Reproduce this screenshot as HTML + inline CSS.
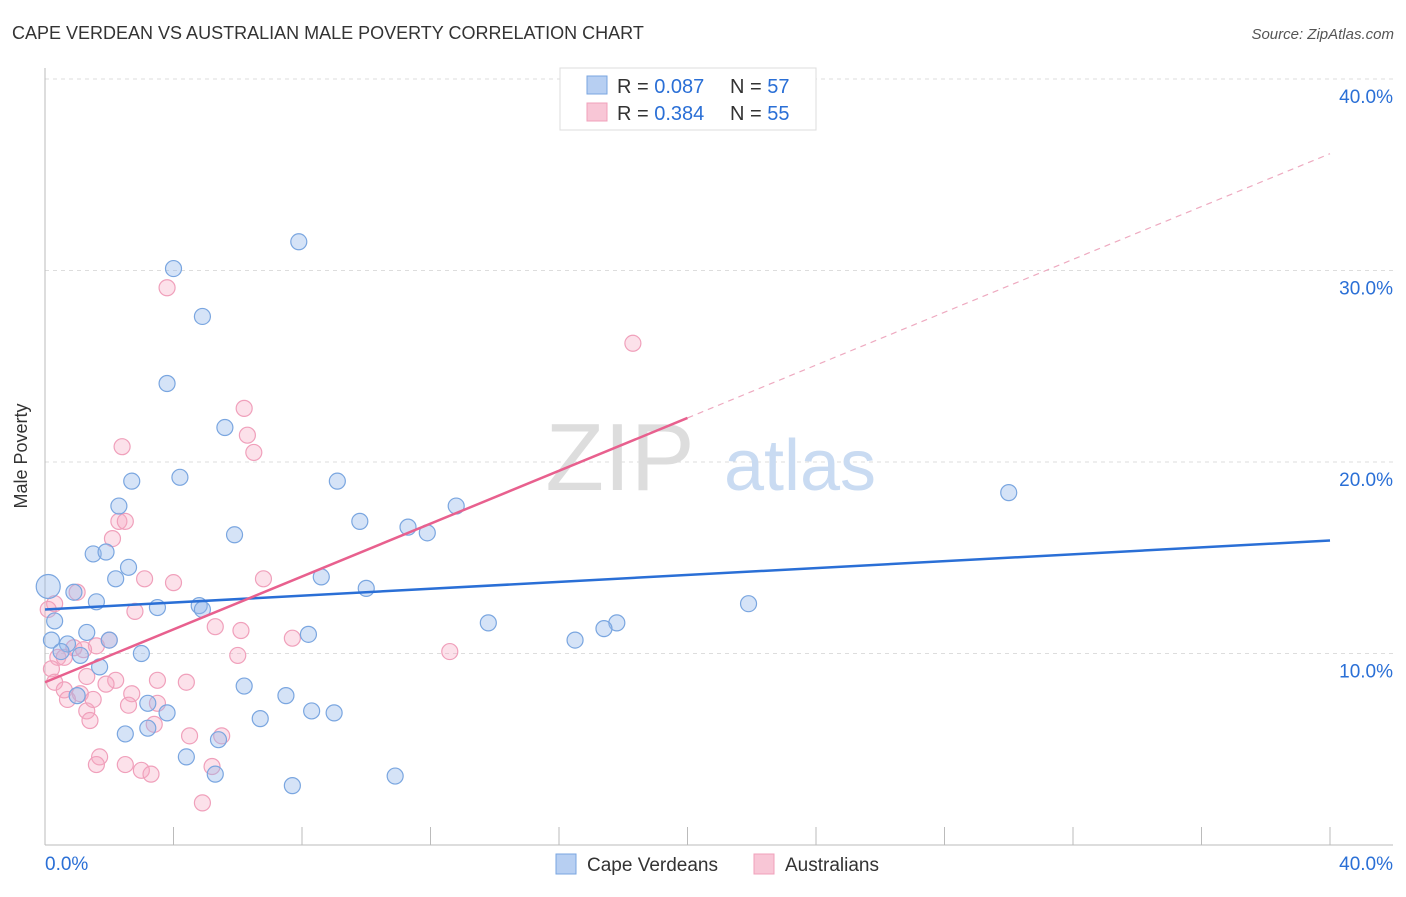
<!DOCTYPE html>
<html><head><meta charset="utf-8"><style>
body{margin:0;background:#fff;font-family:"Liberation Sans",sans-serif;}
svg text{font-family:"Liberation Sans",sans-serif;}
</style></head><body>
<svg id="chart" width="1406" height="892" xmlns="http://www.w3.org/2000/svg">
<text x="12" y="39" font-size="18" fill="#333">CAPE VERDEAN VS AUSTRALIAN MALE POVERTY CORRELATION CHART</text>
<text x="1394" y="39" font-size="15" fill="#555" text-anchor="end" font-style="italic">Source: ZipAtlas.com</text>
<g id="grid"></g>
<text x="620" y="490" font-size="96" fill="#ddd" font-family="Liberation Serif" text-anchor="middle">ZIP</text>
<text x="800" y="490" font-size="72" fill="#c9dbf2" text-anchor="middle">atlas</text>
<g id="pts"></g>
<g id="lines"></g>
<text x="27" y="456" font-size="18" fill="#333" transform="rotate(-90 27 456)" text-anchor="middle">Male Poverty</text>
<g>
<rect x="560" y="68" width="256" height="62" fill="#fff" stroke="#ddd"/>
<rect x="587" y="76" width="20" height="18" fill="#b7cff2" stroke="#7aa6e0"/>
<rect x="587" y="103" width="20" height="18" fill="#f8c6d6" stroke="#f0a0bb"/>
<text x="617" y="93" font-size="20" fill="#333">R = <tspan fill="#2a6fd6">0.087</tspan></text>
<text x="730" y="93" font-size="20" fill="#333">N = <tspan fill="#2a6fd6">57</tspan></text>
<text x="617" y="120" font-size="20" fill="#333">R = <tspan fill="#2a6fd6">0.384</tspan></text>
<text x="730" y="120" font-size="20" fill="#333">N = <tspan fill="#2a6fd6">55</tspan></text>
</g>
<g>
<rect x="556" y="854" width="20" height="20" fill="#b7cff2" stroke="#7aa6e0"/>
<text x="587" y="871" font-size="19" fill="#333">Cape Verdeans</text>
<rect x="754" y="854" width="20" height="20" fill="#f8c6d6" stroke="#f0a0bb"/>
<text x="785" y="871" font-size="19" fill="#333">Australians</text>
</g>
</svg>
<script>
const yTicks=[10,20,30,40];
const xTickLabels=["0.0%","40.0%"];
const blueX=[7.9,4.0,4.9,3.8,5.6,4.2,2.7,9.1,2.3,12.8,9.8,11.3,11.9,5.9,1.5,1.9,2.6,2.2,8.6,10.0,0.9,1.6,3.5,4.8,4.9,0.3,13.8,17.8,17.4,16.5,21.9,30.0,8.2,1.3,0.2,0.7,2.0,0.5,1.1,3.0,1.7,1.0,6.2,7.5,3.2,3.8,6.7,8.3,9.0,2.5,3.2,5.4,4.4,5.3,10.9,7.7];
const blueY=[31.5,30.1,27.6,24.1,21.8,19.2,19.0,19.0,17.7,17.7,16.9,16.6,16.3,16.2,15.2,15.3,14.5,13.9,14.0,13.4,13.2,12.7,12.4,12.5,12.3,11.7,11.6,11.6,11.3,10.7,12.6,18.4,11.0,11.1,10.7,10.5,10.7,10.1,9.9,10.0,9.3,7.8,8.3,7.8,7.4,6.9,6.6,7.0,6.9,5.8,6.1,5.5,4.6,3.7,3.6,3.1];
const bigX=[0.1], bigY=[13.5];
const pinkX=[3.8,18.3,6.2,6.3,2.4,6.5,2.3,2.5,2.1,3.1,4.0,6.8,1.0,2.8,5.3,6.1,7.7,0.3,1.6,2.0,12.6,6.0,0.9,0.4,0.2,1.3,2.2,0.3,0.6,1.9,3.5,4.4,2.7,1.1,0.7,2.6,3.5,1.3,1.4,3.4,4.5,5.5,1.7,1.6,2.5,3.0,3.3,5.2,4.9,0.1,0.6,1.2,1.5];
const pinkY=[29.1,26.2,22.8,21.4,20.8,20.5,16.9,16.9,16.0,13.9,13.7,13.9,13.2,12.2,11.4,11.2,10.8,12.6,10.4,10.7,10.1,9.9,10.3,9.8,9.2,8.8,8.6,8.5,8.1,8.4,8.6,8.5,7.9,7.9,7.6,7.3,7.4,7.0,6.5,6.3,5.7,5.7,4.6,4.2,4.2,3.9,3.7,4.1,2.2,12.3,9.8,10.2,7.6];
const blueTrend=[12.3,15.9];
const pinkTrend=[8.5,22.3,36.1];
const NS="http://www.w3.org/2000/svg";
const sx=v=>45+v/40*1285, sy=v=>845-v/10*191.5;
function mk(t,a,p){const e=document.createElementNS(NS,t);for(const k in a)e.setAttribute(k,a[k]);p.appendChild(e);return e;}
const grid=document.getElementById('grid');
yTicks.forEach(t=>{const l=mk('line',{x1:45,x2:1393,y1:sy(t),y2:sy(t),stroke:'#ddd','stroke-dasharray':'4,4'},grid);


const tx=mk('text',{x:1393,y:sy(t)+24,'font-size':19,fill:'#2a6fd6','text-anchor':'end'},grid);tx.textContent=t.toFixed(1)+'%';

});
mk('line',{x1:45,x2:45,y1:68,y2:845,stroke:'#bbb'},grid);
mk('line',{x1:45,x2:1393,y1:845,y2:845,stroke:'#bbb'},grid);
for(let i=0;i<=10;i++){mk('line',{x1:sx(i*4),x2:sx(i*4),y1:827,y2:845,stroke:'#bbb'},grid);}
const xl0=mk('text',{x:45,y:870,'font-size':19,fill:'#2a6fd6'},grid);xl0.textContent=xTickLabels[0];


const xl1=mk('text',{x:1393,y:870,'font-size':19,fill:'#2a6fd6','text-anchor':'end'},grid);xl1.textContent=xTickLabels[1];


const pts=document.getElementById('pts');
pinkX.forEach((x,i)=>{const c=mk('circle',{cx:sx(x),cy:sy(pinkY[i]),r:8,fill:'rgba(245,170,195,0.35)',stroke:'#f0a0bb','stroke-width':1.2},pts);

});
blueX.forEach((x,i)=>{const c=mk('circle',{cx:sx(x),cy:sy(blueY[i]),r:8,fill:'rgba(150,185,235,0.4)',stroke:'#7aa6e0','stroke-width':1.2},pts);

});
bigX.forEach((x,i)=>{const c=mk('circle',{cx:sx(x),cy:sy(bigY[i]),r:12,fill:'rgba(150,185,235,0.4)',stroke:'#7aa6e0','stroke-width':1.2},pts);

});
const lines=document.getElementById('lines');
const bl=mk('line',{x1:sx(0),y1:sy(blueTrend[0]),x2:sx(40),y2:sy(blueTrend[1]),stroke:'#2a6fd6','stroke-width':2.5},lines);


const pl=mk('line',{x1:sx(0),y1:sy(pinkTrend[0]),x2:sx(20),y2:sy(pinkTrend[1]),stroke:'#e8608e','stroke-width':2.5},lines);


const pd=mk('line',{x1:sx(20),y1:sy(pinkTrend[1]),x2:sx(40),y2:sy(pinkTrend[2]),stroke:'#eeaac0','stroke-width':1.2,'stroke-dasharray':'6,5'},lines);


</script>
</body></html>
